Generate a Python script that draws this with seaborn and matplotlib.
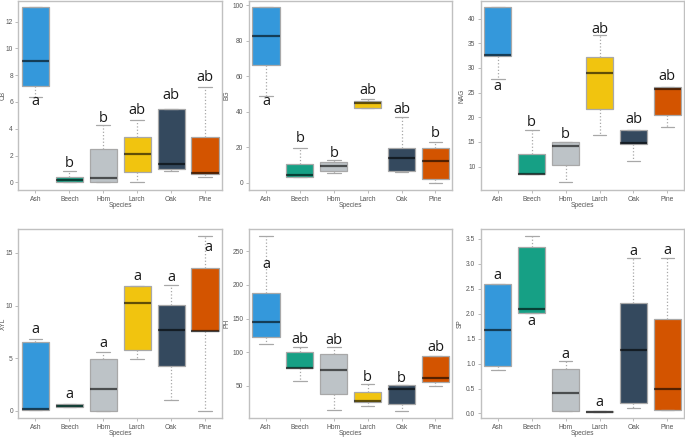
import numpy as np
import pandas as pd
import matplotlib
matplotlib.use('Agg')
import matplotlib.pyplot as plt
from matplotlib.ticker import MultipleLocator
import seaborn as sns

species = ['Ash', 'Beech', 'Hbm', 'Larch', 'Oak', 'Pine']
colors = ['#3498db', '#16a085', '#bdc3c7', '#f1c40f', '#34495e', '#d35400']

# five-number summaries per species: [lower whisker, q1, median, q3, upper whisker]
cb = [[6.4, 7.2, 9.05, 13.07, 13.07], [0.0, 0.05, 0.2, 0.43, 0.83], [0.0, 0.0, 0.3, 2.5, 4.25],
      [0.0, 0.78, 2.15, 3.35, 4.62], [0.85, 0.98, 1.38, 5.48, 5.48], [0.43, 0.6, 0.7, 3.4, 7.15]]
bg = [[48.9, 66.4, 82.6, 98.9, 98.9], [3.4, 3.4, 4.3, 10.6, 19.6], [5.7, 6.8, 9.4, 11.7, 12.8],
      [42.3, 42.3, 44.9, 45.8, 47.0], [5.8, 6.8, 14.0, 19.4, 37.0], [0.0, 2.3, 12.1, 19.4, 22.8]]
nag = [[27.8, 32.5, 32.6, 42.3, 42.3], [8.5, 8.5, 8.6, 12.6, 17.5], [6.8, 10.3, 14.2, 15.0, 15.0],
       [16.4, 21.7, 29.0, 32.3, 36.7], [11.2, 14.5, 14.8, 17.5, 17.5], [18.0, 20.5, 25.8, 26.2, 26.2]]
xyl = [[0.06, 0.06, 0.2, 6.5, 6.8], [0.38, 0.38, 0.48, 0.7, 0.7], [0.0, 0.0, 2.1, 4.9, 5.56],
       [4.9, 5.8, 10.23, 11.85, 11.85], [1.0, 4.3, 7.7, 10.1, 11.95], [0.0, 7.6, 7.6, 13.57, 16.6]]
ph = [[112.8, 122.3, 144.3, 187.7, 273.0], [57.5, 77.0, 77.0, 99.9, 108.0], [14.0, 37.5, 73.4, 96.9, 108.0],
      [20.0, 26.6, 27.0, 40.5, 53.0], [12.0, 23.0, 44.5, 50.5, 51.5], [50.0, 56.0, 62.0, 93.9, 94.0]]
sp = [[0.88, 0.944, 1.67, 2.59, 2.59], [2.02, 2.02, 2.1, 3.34, 3.56], [0.06, 0.06, 0.42, 0.9, 1.045],
      [0.027, 0.027, 0.04, 0.054, 0.054], [0.115, 0.216, 1.27, 2.22, 3.115], [0.08, 0.08, 0.5, 1.89, 3.115]]

# significance letters and the y value where each is written
cb_letters = ['a', 'b', 'b', 'ab', 'ab', 'ab']
cb_label_y = [6.0, 1.43, 4.75, 5.4, 6.45, 7.8]
bg_letters = ['a', 'b', 'b', 'ab', 'ab', 'b']
bg_label_y = [45.5, 24.7, 16.6, 51.7, 41.0, 27.5]
nag_letters = ['a', 'b', 'b', 'ab', 'ab', 'ab']
nag_label_y = [26.3, 18.9, 16.5, 37.8, 19.6, 28.2]
xyl_letters = ['a', 'a', 'a', 'a', 'a', 'a']
xyl_label_y = [7.75, 1.6, 6.4, 12.8, 12.7, 15.5]
ph_letters = ['a', 'ab', 'ab', 'b', 'b', 'ab']
ph_label_y = [230, 118.8, 117.3, 62, 61, 107]
sp_letters = ['a', 'a', 'a', 'a', 'a', 'a']
sp_label_y = [2.76, 1.85, 1.19, 0.22, 3.24, 3.26]

panels = [
    ('CB', cb, cb_letters, cb_label_y, (-0.58, 13.55), 2),
    ('BG', bg, bg_letters, bg_label_y, (-4.2, 102.5), 20),
    ('NAG', nag, nag_letters, nag_label_y, (5.25, 43.6), 5),
    ('XYL', xyl, xyl_letters, xyl_label_y, (-0.67, 17.3), 5),
    ('PH', ph, ph_letters, ph_label_y, (2.1, 283.4), 50),
    ('SP', sp, sp_letters, sp_label_y, (-0.09, 3.70), 0.5),
]

sns.set_style('white')
plt.rcParams['font.family'] = ['Liberation Sans', 'DejaVu Sans']

fig = plt.figure(figsize=(6.85, 4.37), dpi=100)
lefts = [0.027, 0.3635, 0.702]
bottoms = [0.565, 0.0435]
w, h = 0.297, 0.433
small = 4.8

for i, (name, vals, letters, label_y, ylim, step) in enumerate(panels):
    ax = fig.add_axes([lefts[i % 3], bottoms[i // 3], w, h])
    rows = []
    for s, v in zip(species, vals):
        for x in v:
            rows.append({'Species': s, name: x})
    df = pd.DataFrame(rows)
    sns.boxplot(data=df, x='Species', y=name, hue='Species', palette=colors,
                order=species, hue_order=species, legend=False, whis=(0, 100),
                width=0.8, saturation=1, linecolor='#a8a8a8', linewidth=0.9,
                showfliers=False,
                whiskerprops=dict(linestyle=':', color='#a8a8a8'),
                capprops=dict(color='#a8a8a8'),
                medianprops=dict(color='black', alpha=0.6, linewidth=1.6),
                ax=ax)
    for j, (lab, yv) in enumerate(zip(letters, label_y)):
        dx = 0.1 if (name == 'XYL' and j == 5) else 0
        ax.text(j + dx, yv, lab, ha='center', va='center', fontsize=10.5,
                color='#1a1a1a', family=['Open Sans', 'DejaVu Sans'])
    ax.set_ylim(*ylim)
    ax.yaxis.set_major_locator(MultipleLocator(step))
    ax.set_xlabel('Species', fontsize=small, color='#555555')
    ax.set_ylabel(name, fontsize=small, color='#555555', labelpad=1.5)
    ax.xaxis.set_label_coords(0.5, -0.064)
    if i % 3 == 0:
        # first column sits against the figure edge
        ax.yaxis.set_label_coords(-0.058, 0.5)
    ax.tick_params(labelsize=small, colors='#555555', length=2.5, width=0.6,
                   color='#b0b0b0', pad=1.5, left=True, bottom=True)
    for sp_ in ax.spines.values():
        sp_.set_color('#c0c0c0')
        sp_.set_linewidth(1.0)

plt.savefig('out.png', dpi=100)
